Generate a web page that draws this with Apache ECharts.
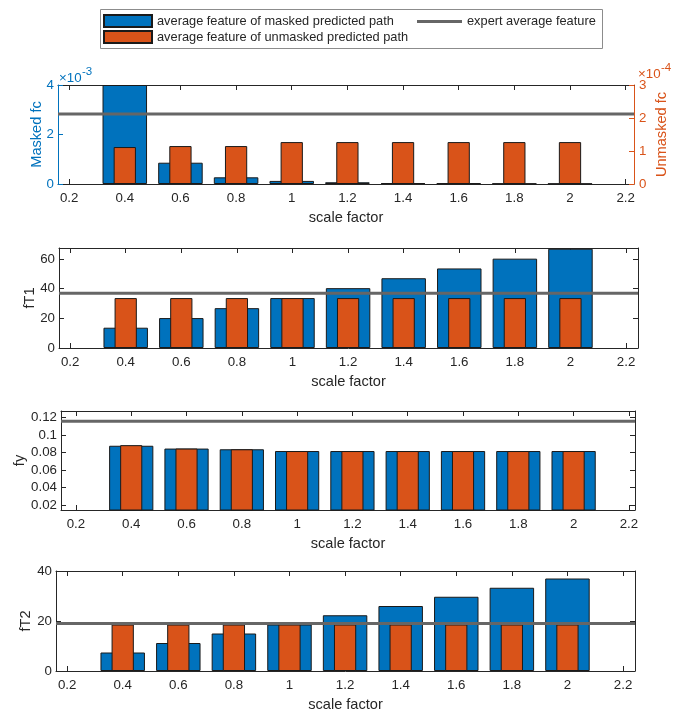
<!DOCTYPE html>
<html>
<head>
<meta charset="utf-8">
<script src="https://cdn.jsdelivr.net/npm/echarts@6/dist/echarts.min.js"></script>
<style>
  html, body { margin: 0; background: #fff; }
  #chart { width: 688px; height: 709px; }
</style>
</head>
<body>
<div id="chart"></div>
<script>
// scale factors on the x axis
const scaleFactors = [0.4, 0.6, 0.8, 1.0, 1.2, 1.4, 1.6, 1.8, 2.0];

// fc (masked on left axis, unmasked on right axis)
const fcMasked = [0.0040, 0.00086, 0.00027, 0.000125, 0.00007, 0.00004, 0.00003, 0.00002, 0.000015];
const fcUnmasked = [1.12e-4, 1.15e-4, 1.15e-4, 1.27e-4, 1.27e-4, 1.27e-4, 1.27e-4, 1.27e-4, 1.27e-4];
const fcExpert = 0.00283;

const fT1Masked = [13.7, 20.2, 26.9, 33.7, 40.4, 47.1, 53.7, 60.3, 67.0];
const fT1Unmasked = [33.7, 33.7, 33.7, 33.7, 33.7, 33.7, 33.7, 33.7, 33.7];
const fT1Expert = 37.0;

const fyMasked = [0.0878, 0.0846, 0.0838, 0.0818, 0.0818, 0.0818, 0.0818, 0.0818, 0.0818];
const fyUnmasked = [0.0885, 0.0846, 0.0838, 0.0818, 0.0818, 0.0818, 0.0818, 0.0818, 0.0818];
const fyExpert = 0.1157;

const fT2Masked = [7.4, 11.2, 15.0, 18.6, 22.3, 26.0, 29.7, 33.3, 37.0];
const fT2Unmasked = [18.6, 18.6, 18.6, 18.6, 18.6, 18.6, 18.6, 18.6, 18.6];
const fT2Expert = 19.0;

// tick values
const xTicks = [0.2, 0.4, 0.6, 0.8, 1.0, 1.2, 1.4, 1.6, 1.8, 2.0, 2.2];
const fcMaskedTicks = [0, 0.002, 0.004];
const fcUnmaskedTicks = [0, 1e-4, 2e-4, 3e-4];
const fT1Ticks = [0, 20, 40, 60];
const fyTicks = [0.02, 0.04, 0.06, 0.08, 0.1, 0.12];
const fT2Ticks = [0, 20, 40];

const BLUE = '#0072BD';
const ORANGE = '#D95319';
const AX = '#262626';
const EXPERT_C = '#666666';
const FONT = 'Liberation Sans';
const TICK_FS = 13.3;
const NAME_FS = 14.6;

const MASKED = 'average feature of masked predicted path';
const UNMASKED = 'average feature of unmasked predicted path';
const EXPERT = 'expert average feature';

const chart = echarts.init(document.getElementById('chart'));

const grid = [], xAxis = [], yAxis = [], series = [];

const pairs = ys => scaleFactors.map((x, i) => [x, ys[i]]);
const fmtX = v => String(+v.toFixed(1));

function yAx(g, pos, min, max, ticks, color, opts) {
    return Object.assign({
        type: 'value', gridIndex: g, position: pos, min: min, max: max,
        nameMoveOverlap: false,
        axisLine: { show: true, onZero: false, lineStyle: { color: color, width: 1 } },
        axisTick: { show: true, inside: true, length: 5, customValues: ticks, lineStyle: { color: color } },
        axisLabel: { show: false },
        splitLine: { show: false }
    }, opts);
}

function addPanel(p) {
    const g = grid.length;
    grid.push({ left: p.left, top: p.top, width: p.width, height: p.height, outerBoundsMode: 'none', containLabel: false });

    const xb = xAxis.length;
    const xBase = {
        type: 'value', gridIndex: g, min: p.xMin, max: p.xMax,
        nameMoveOverlap: false,
        axisLine: { show: true, onZero: false, lineStyle: { color: AX, width: 1 } },
        axisTick: { show: true, inside: true, length: 5, customValues: xTicks, lineStyle: { color: AX } },
        splitLine: { show: false }
    };
    xAxis.push(Object.assign({}, xBase, {
        position: 'bottom',
        name: 'scale factor', nameLocation: 'middle', nameGap: 26,
        nameTextStyle: { color: AX, fontSize: NAME_FS, fontFamily: FONT },
        axisLabel: { customValues: xTicks, margin: 8, color: AX, fontSize: TICK_FS, fontFamily: FONT, formatter: fmtX }
    }));
    xAxis.push(Object.assign({}, xBase, { position: 'top', axisLabel: { show: false } }));

    const yl = yAxis.length;
    const leftColor = p.leftColor || AX;
    yAxis.push(yAx(g, 'left', p.yMin, p.yMax, p.yTicks, leftColor, {
        name: p.yName, nameLocation: 'middle', nameGap: p.nameGap, nameRotate: 90,
        nameTextStyle: { color: leftColor, fontSize: NAME_FS, fontFamily: FONT },
        axisLabel: { show: true, customValues: p.yTicks, margin: 4, color: leftColor, fontSize: TICK_FS, fontFamily: FONT, formatter: p.yFmt }
    }));
    if (p.right) {
        yAxis.push(yAx(g, 'right', p.right.min, p.right.max, p.right.ticks, ORANGE, {
            name: p.right.name, nameLocation: 'middle', nameGap: p.right.nameGap, nameRotate: 90,
            nameTextStyle: { color: ORANGE, fontSize: NAME_FS, fontFamily: FONT },
            axisLabel: { show: true, customValues: p.right.ticks, margin: 5, color: ORANGE, fontSize: TICK_FS, fontFamily: FONT, formatter: p.right.fmt }
        }));
    } else {
        yAxis.push(yAx(g, 'right', p.yMin, p.yMax, p.yTicks, AX, {}));
    }

    const barStyle = c => ({ color: c, borderColor: '#1a1a1a', borderWidth: 1 });
    series.push({
        type: 'bar', name: MASKED, xAxisIndex: xb, yAxisIndex: yl,
        data: pairs(p.masked), barWidth: '80%', itemStyle: barStyle(BLUE), z: 2
    });
    series.push({
        type: 'bar', name: UNMASKED, xAxisIndex: xb + 1, yAxisIndex: p.right ? yl + 1 : yl,
        data: pairs(p.unmasked), barWidth: '40%', itemStyle: barStyle(ORANGE), z: 3
    });
    series.push({
        type: 'line', name: EXPERT, xAxisIndex: xb, yAxisIndex: yl,
        data: [[p.xMin, p.expert], [p.xMax, p.expert]],
        symbol: 'none', lineStyle: { color: EXPERT_C, width: 3 }, itemStyle: { color: EXPERT_C }, z: 5
    });
}

addPanel({
    left: 58, top: 85, width: 576, height: 99, xMin: 0.16, xMax: 2.23,
    yMin: 0, yMax: 0.004, yTicks: fcMaskedTicks, yName: 'Masked fc', nameGap: 14,
    leftColor: BLUE, yFmt: v => String(Math.round(v * 1000)),
    right: { min: 0, max: 3e-4, ticks: fcUnmaskedTicks, name: 'Unmasked fc', nameGap: 20, fmt: v => String(Math.round(v * 10000)) },
    masked: fcMasked, unmasked: fcUnmasked, expert: fcExpert
});
addPanel({
    left: 59, top: 248, width: 579, height: 100, xMin: 0.16, xMax: 2.243,
    yMin: 0, yMax: 67.5, yTicks: fT1Ticks, yName: 'fT1', nameGap: 22,
    yFmt: v => String(v),
    masked: fT1Masked, unmasked: fT1Unmasked, expert: fT1Expert
});
addPanel({
    left: 61, top: 411, width: 574, height: 99, xMin: 0.146, xMax: 2.222,
    yMin: 0.0146, yMax: 0.1274, yTicks: fyTicks, yName: 'fy', nameGap: 34,
    yFmt: v => String(+v.toFixed(2)),
    masked: fyMasked, unmasked: fyUnmasked, expert: fyExpert
});
addPanel({
    left: 56, top: 571, width: 579, height: 100, xMin: 0.16, xMax: 2.243,
    yMin: 0, yMax: 40, yTicks: fT2Ticks, yName: 'fT2', nameGap: 23,
    yFmt: v => String(v),
    masked: fT2Masked, unmasked: fT2Unmasked, expert: fT2Expert
});

const legendText = { color: AX, fontSize: 12.8, fontFamily: FONT };

chart.setOption({
    animation: false,
    backgroundColor: '#fff',
    grid: grid,
    xAxis: xAxis,
    yAxis: yAxis,
    series: series,
    legend: [
        {
            data: [{ name: MASKED, icon: 'rect' }, { name: UNMASKED, icon: 'rect' }],
            orient: 'vertical', left: 103, top: 14, padding: 0,
            itemWidth: 48, itemHeight: 12, itemGap: 2,
            selectedMode: false, textStyle: legendText
        },
        {
            data: [{ name: EXPERT, icon: 'rect' }],
            orient: 'vertical', left: 417, top: 15, padding: 0,
            itemWidth: 45, itemHeight: 3,
            selectedMode: false, textStyle: legendText
        }
    ],
    graphic: [
        {
            type: 'rect', silent: true,
            shape: { x: 100.5, y: 9.5, width: 502, height: 39 },
            style: { fill: 'transparent', stroke: '#8c8c8c', lineWidth: 1 }
        },
        { type: 'text', x: 59, y: 78, style: { text: '\u00d710', fill: BLUE, fontSize: TICK_FS, fontFamily: FONT, verticalAlign: 'middle' } },
        { type: 'text', x: 82, y: 72, style: { text: '-3', fill: BLUE, fontSize: 11.5, fontFamily: FONT, verticalAlign: 'middle' } },
        { type: 'text', x: 638, y: 74, style: { text: '\u00d710', fill: ORANGE, fontSize: TICK_FS, fontFamily: FONT, verticalAlign: 'middle' } },
        { type: 'text', x: 661, y: 68, style: { text: '-4', fill: ORANGE, fontSize: 11.5, fontFamily: FONT, verticalAlign: 'middle' } }
    ]
});
</script>
</body>
</html>
